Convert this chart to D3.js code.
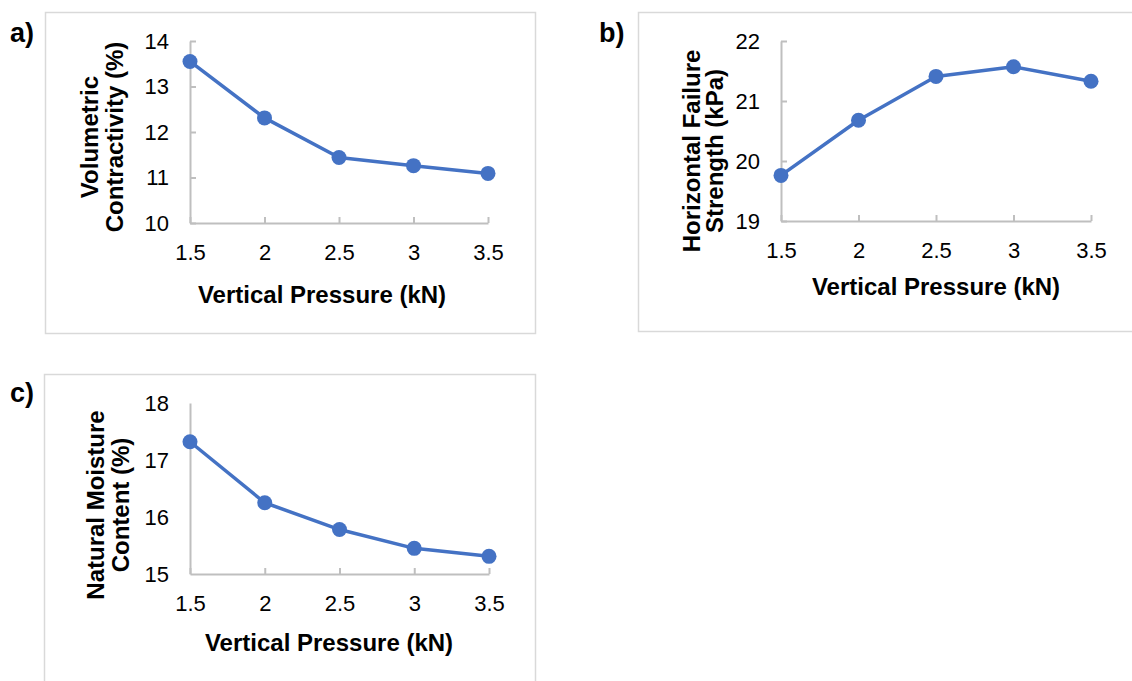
<!DOCTYPE html>
<html><head><meta charset="utf-8">
<script src="https://cdn.jsdelivr.net/npm/d3@7"></script>
<style>
body{margin:0;background:#fff}
svg{display:block}
text{font-family:"Liberation Sans",Arial,Helvetica,sans-serif;fill:#000}
</style>
</head><body>
<svg id="chart" width="1132" height="681"></svg>
<script>
// ---- data ----
const pressure = [1.5, 2, 2.5, 3, 3.5];
const xTickValues = [1.5, 2, 2.5, 3, 3.5];
const volumetricContractivity = [13.55, 12.31, 11.44, 11.26, 11.09];
const horizontalFailureStrength = [19.76, 20.68, 21.41, 21.57, 21.33];
const naturalMoistureContent = [17.32, 16.25, 15.78, 15.45, 15.31];
const yTicksA = [10, 11, 12, 13, 14];
const yTicksB = [19, 20, 21, 22];
const yTicksC = [15, 16, 17, 18];
const xTitle = "Vertical Pressure (kN)";
const yTitleA = ["Volumetric", "Contractivity (%)"];
const yTitleB = ["Horizontal Failure", "Strength (kPa)"];
const yTitleC = ["Natural Moisture", "Content (%)"];
const panelLabels = ["a)", "b)", "c)"];

// ---- layout ----
const panels = [
  {label: panelLabels[0], values: volumetricContractivity, yTicks: yTicksA, yTitle: yTitleA,
   box: [45, 12, 490, 321], lab: [10, 42], xr: [190, 488], yr: [223, 41],
   yTitleX: [98, 123], yTitleY: 137, xTitleXY: [322, 303], yTickMarks: true},
  {label: panelLabels[1], values: horizontalFailureStrength, yTicks: yTicksB, yTitle: yTitleB,
   box: [638, 12, 500, 319], lab: [599, 42], xr: [781, 1091], yr: [221, 41],
   yTitleX: [700, 723], yTitleY: 151, xTitleXY: [936, 295], yTickMarks: true},
  {label: panelLabels[2], values: naturalMoistureContent, yTicks: yTicksC, yTitle: yTitleC,
   box: [44, 374, 491, 330], lab: [10, 402], xr: [190, 489], yr: [574, 403],
   yTitleX: [104, 129], yTitleY: 505, xTitleXY: [329, 651], yTickMarks: false}
];

const svg = d3.select("#chart");
const BLUE = "#4472C4", AXIS = "#bfbfbf", BORDER = "#d9d9d9";

panels.forEach(p => {
  const g = svg.append("g");
  g.append("rect").attr("x", p.box[0] + 0.5).attr("y", p.box[1] + 0.5)
    .attr("width", p.box[2]).attr("height", p.box[3])
    .attr("fill", "none").attr("stroke", BORDER).attr("stroke-width", 1.5);

  g.append("text").attr("x", p.lab[0]).attr("y", p.lab[1])
    .attr("font-size", 27).attr("font-weight", "bold").text(p.label);

  const x = d3.scaleLinear().domain([xTickValues[0], xTickValues[xTickValues.length - 1]]).range(p.xr);
  const y = d3.scaleLinear().domain([p.yTicks[0], p.yTicks[p.yTicks.length - 1]]).range(p.yr);

  const xa = g.append("g").attr("transform", `translate(0,${p.yr[0]})`)
    .call(d3.axisBottom(x).tickValues(xTickValues).tickFormat(d3.format("")).tickSizeInner(-6).tickSizeOuter(0).tickPadding(21));
  const ya = g.append("g").attr("transform", `translate(${p.xr[0]},0)`)
    .call(d3.axisLeft(y).tickValues(p.yTicks).tickFormat(d3.format("d")).tickSizeInner(p.yTickMarks ? -6 : 0).tickSizeOuter(0).tickPadding(21));
  [xa, ya].forEach(a => {
    a.attr("font-family", null).attr("font-size", null);
    a.select(".domain").attr("stroke", AXIS).attr("stroke-width", 2);
    a.selectAll(".tick line").attr("stroke", AXIS).attr("stroke-width", 2);
    a.selectAll(".tick text").attr("font-size", 22).attr("fill", "#000");
  });

  const line = d3.line().x((d, i) => x(pressure[i])).y(d => y(d));
  g.append("path").datum(p.values).attr("d", line)
    .attr("fill", "none").attr("stroke", BLUE).attr("stroke-width", 3.5).attr("stroke-linejoin", "round");
  g.selectAll("circle.pt").data(p.values).enter().append("circle")
    .attr("class", "pt").attr("cx", (d, i) => x(pressure[i])).attr("cy", d => y(d))
    .attr("r", 7.5).attr("fill", BLUE);

  g.append("text").attr("x", p.xTitleXY[0]).attr("y", p.xTitleXY[1])
    .attr("text-anchor", "middle").attr("font-size", 24).attr("font-weight", "bold").text(xTitle);

  p.yTitle.forEach((t, i) => {
    g.append("text").attr("transform", `translate(${p.yTitleX[i]},${p.yTitleY}) rotate(-90)`)
      .attr("text-anchor", "middle").attr("font-size", 24).attr("font-weight", "bold").text(t);
  });
});
</script>
</body></html>
